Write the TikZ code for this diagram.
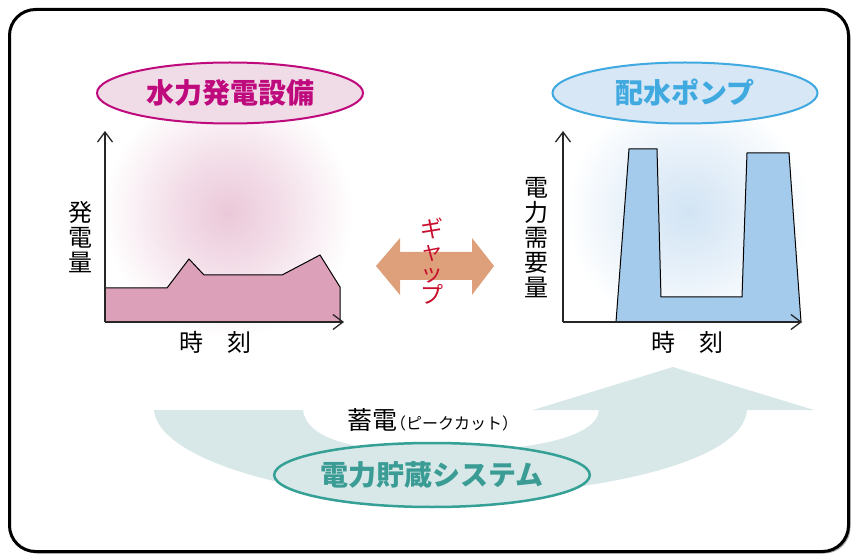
\documentclass[tikz,border=0pt]{standalone}
\usepackage{fontspec}
\setmainfont{Noto Sans CJK JP}
\usetikzlibrary{shapes.geometric,arrows.meta}
\definecolor{pinkfill}{HTML}{DCA0B8}
\definecolor{pinkell}{HTML}{F0DCE6}
\definecolor{hydro}{HTML}{BF0A7E}
\definecolor{bluefill}{HTML}{A5CBEC}
\definecolor{blueell}{HTML}{D7E7F5}
\definecolor{pump}{HTML}{3FA9E0}
\definecolor{gapc}{HTML}{DDA07A}
\definecolor{gapred}{HTML}{C8102E}
\definecolor{storc}{HTML}{D8E8E8}
\definecolor{storline}{HTML}{35A096}
\definecolor{stortext}{HTML}{3A9C94}
\definecolor{glowpink}{HTML}{EBC8D9}
\definecolor{glowblue}{HTML}{D2E4F4}
\pgfdeclareradialshading{pinkglow}{\pgfpoint{0bp}{0bp}}{color(0bp)=(glowpink); color(11bp)=(glowpink!60!white); color(25bp)=(white); color(50bp)=(white)}
\pgfdeclareradialshading{blueglow}{\pgfpoint{0bp}{0bp}}{color(0bp)=(glowblue); color(11bp)=(glowblue!60!white); color(25bp)=(white); color(50bp)=(white)}
\begin{document}
\begin{tikzpicture}[x=1pt,y=-1pt,
  axis/.style={line width=1.3pt, draw=black!85, -{Straight Barb[length=10pt,width=15pt,line width=1.3pt]}},
  vlabel/.style={align=center, inner sep=0pt, font=\fontsize{24}{25}\selectfont},
  title/.style={ellipse, line width=2pt, inner sep=0pt, font=\fontsize{28}{30}\selectfont\bfseries},
  timelbl/.style={inner sep=0pt, font=\fontsize{24}{26}\selectfont}
]
\useasboundingbox (0,0) rectangle (852,556);
\fill[white] (0,0) rectangle (852,556);
% frame
\fill[black!35, rounded corners=26pt] (11.5,11.5) rectangle (850.5,553.5);
\draw[line width=3pt, fill=white, rounded corners=26pt] (9.5,9.5) rectangle (848.5,551.5);
% glows
\shade[shading=pinkglow] (228,213) circle (125pt);
\shade[shading=blueglow] (688,212) circle (122pt);
% left chart
\draw[fill=pinkfill, line width=1pt] (105,288) -- (167,288) -- (189,259) -- (204,275) -- (282,275) -- (320,255) -- (340,287) -- (340,322) -- (105,322) -- cycle;
\coordinate (lorig) at (105,322);
\coordinate (ltop) at (105,131);
\coordinate (lright) at (344,322);
\draw[axis] (lorig) -- (ltop);
\draw[axis] (lorig) -- (lright);
% right chart
\draw[fill=bluefill, line width=1pt] (616,322) -- (629,149) -- (657,149) -- (661,297) -- (742,297) -- (747,153) -- (789,153) -- (801,322) -- cycle;
\coordinate (rorig) at (563,322);
\coordinate (rtop) at (563,131);
\coordinate (rright) at (802,322);
\draw[axis] (rorig) -- (rtop);
\draw[axis] (rorig) -- (rright);
% titles
\node[title, draw=hydro, fill=pinkell, text=hydro, minimum width=266pt, minimum height=61pt] (hydro) at (230,93) {水力発電設備};
\node[title, draw=pump, fill=blueell, text=pump, minimum width=265pt, minimum height=61pt] (pump) at (685,93) {配水ポンプ};
% axis labels
\node[vlabel] (lylab) at (80,237) {発\\電\\量};
\node[vlabel] (rylab) at (536,238) {電\\力\\需\\要\\量};
\node[timelbl] (lxlab) at (215.5,342) {時\hspace{1em}刻};
\node[timelbl] (rxlab) at (687.5,342) {時\hspace{1em}刻};
% gap arrow
\fill[gapc] (376,266) -- (400,238) -- (400,252) -- (472,252) -- (472,238) -- (494,266) -- (472,295) -- (472,280) -- (400,280) -- (400,295) -- cycle;
\node[align=center, inner sep=0pt, text=gapred, font=\fontsize{23}{22}\selectfont] (gap) at (432,261) {ギ\\ャ\\ッ\\プ};
% storage arrow
\fill[storc] (154,410) .. controls (158,460) and (300,498) .. (420,498) .. controls (560,498) and (742,470) .. (747,410) -- (814,410) -- (673,367) -- (533,410) -- (599,410) .. controls (597,440) and (520,452) .. (430,452) .. controls (360,452) and (306,440) .. (303,410) -- cycle;
\node[inner sep=0pt, anchor=west] (peak) at (347,420) {\fontsize{25}{27}\selectfont 蓄電\fontsize{16}{19}\selectfont\hspace{-0.45em}（ピークカット）};
\node[title, line width=2.5pt, draw=storline, fill=storc, text=stortext, minimum width=289pt, minimum height=64pt] (stor) at (432,475) {電力貯蔵システム};
\end{tikzpicture}
\end{document}
